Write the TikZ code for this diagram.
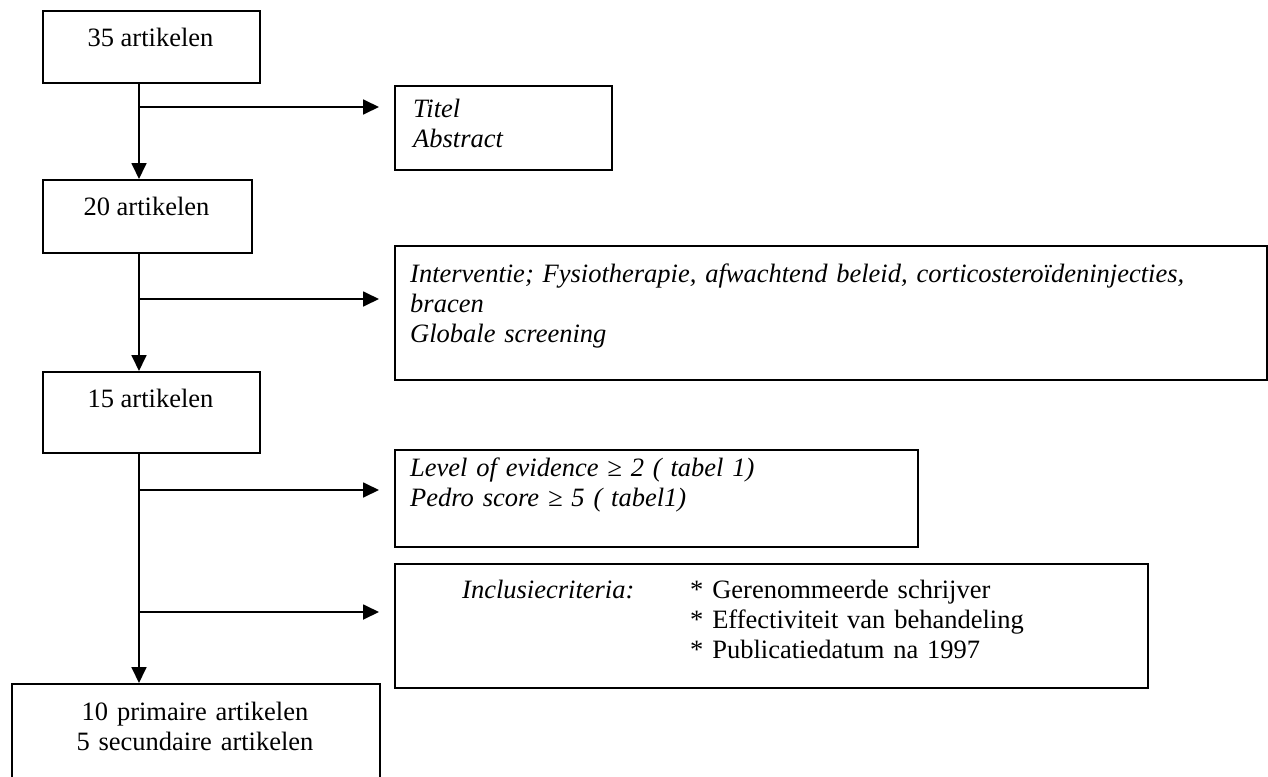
\documentclass[tikz,border=0pt]{standalone}
\usepackage{fontspec}
\setmainfont{Liberation Serif}
\usetikzlibrary{arrows.meta}
\tikzset{
  box/.style={draw, line width=1.8pt, anchor=north west, inner sep=0pt},
  txt/.style={inner sep=0pt, font=\fontsize{26.5}{30}\selectfont},
  crit/.style={txt, font=\fontsize{26.5}{30}\selectfont\itshape, anchor=base west, align=left},
  flow/.style={line width=1.8pt, -{Triangle[length=16pt,width=15pt]}}
}
\begin{document}
\begin{tikzpicture}[x=1pt,y=-1pt]
  \useasboundingbox (0,0) rectangle (1268,776);
  % stappen links
  \node[box, minimum width=217, minimum height=72] (a35) at (42,10) {};
  \node[box, minimum width=209, minimum height=73] (a20) at (42,179) {};
  \node[box, minimum width=217, minimum height=81] (a15) at (42,371) {};
  \node[box, minimum width=368, minimum height=100] (a10) at (11,683) {};
  \node[txt, anchor=base] (t35) at (150.5,47) {35 artikelen};
  \node[txt, anchor=base] (t20) at (146.5,215) {20 artikelen};
  \node[txt, anchor=base] (t15) at (150.5,407) {15 artikelen};
  \node[txt, anchor=base, text width=360, align=center] (t10) at (195,720)
    {10 primaire artikelen\\5 secundaire artikelen};
  % criteria rechts
  \node[box, minimum width=217, minimum height=84] (titel) at (394,85) {};
  \node[box, minimum width=872, minimum height=134] (interv) at (394,245) {};
  \node[box, minimum width=523, minimum height=97] (level) at (394,449) {};
  \node[box, minimum width=753, minimum height=124] (incl) at (394,563) {};
  \node[crit, text width=190] (ttitel) at (413,117) {Titel\\Abstract};
  \node[crit, text width=840] (tinterv) at (410,282)
    {Interventie; Fysiotherapie, afwachtend beleid, corticosteroïdeninjecties,\\bracen\\Globale screening};
  \node[crit, text width=500] (tlevel) at (410,476)
    {Level of evidence ≥ 2 ( tabel 1)\\Pedro score ≥ 5 ( tabel1)};
  \node[crit, text width=180] (tincl) at (462,598) {Inclusiecriteria:};
  \node[txt, anchor=base west, text width=450, align=left] (tpunt) at (690,598)
    {{*} Gerenommeerde schrijver\\{*} Effectiviteit van behandeling\\{*} Publicatiedatum na 1997};
  % pijlen
  \coordinate (s1) at (139,107);
  \coordinate (s2) at (139,299);
  \coordinate (s3) at (139,490);
  \coordinate (s4) at (139,612);
  \draw[flow] (a35.south -| s1) -- (a20.north -| s1);
  \draw[flow] (a20.south -| s1) -- (a15.north -| s1);
  \draw[flow] (a15.south -| s1) -- (a10.north -| s1);
  \draw[flow, shorten >=15pt] (s1) -- (s1 -| titel.west);
  \draw[flow, shorten >=15pt] (s2) -- (s2 -| interv.west);
  \draw[flow, shorten >=15pt] (s3) -- (s3 -| level.west);
  \draw[flow, shorten >=15pt] (s4) -- (s4 -| incl.west);
\end{tikzpicture}
\end{document}
